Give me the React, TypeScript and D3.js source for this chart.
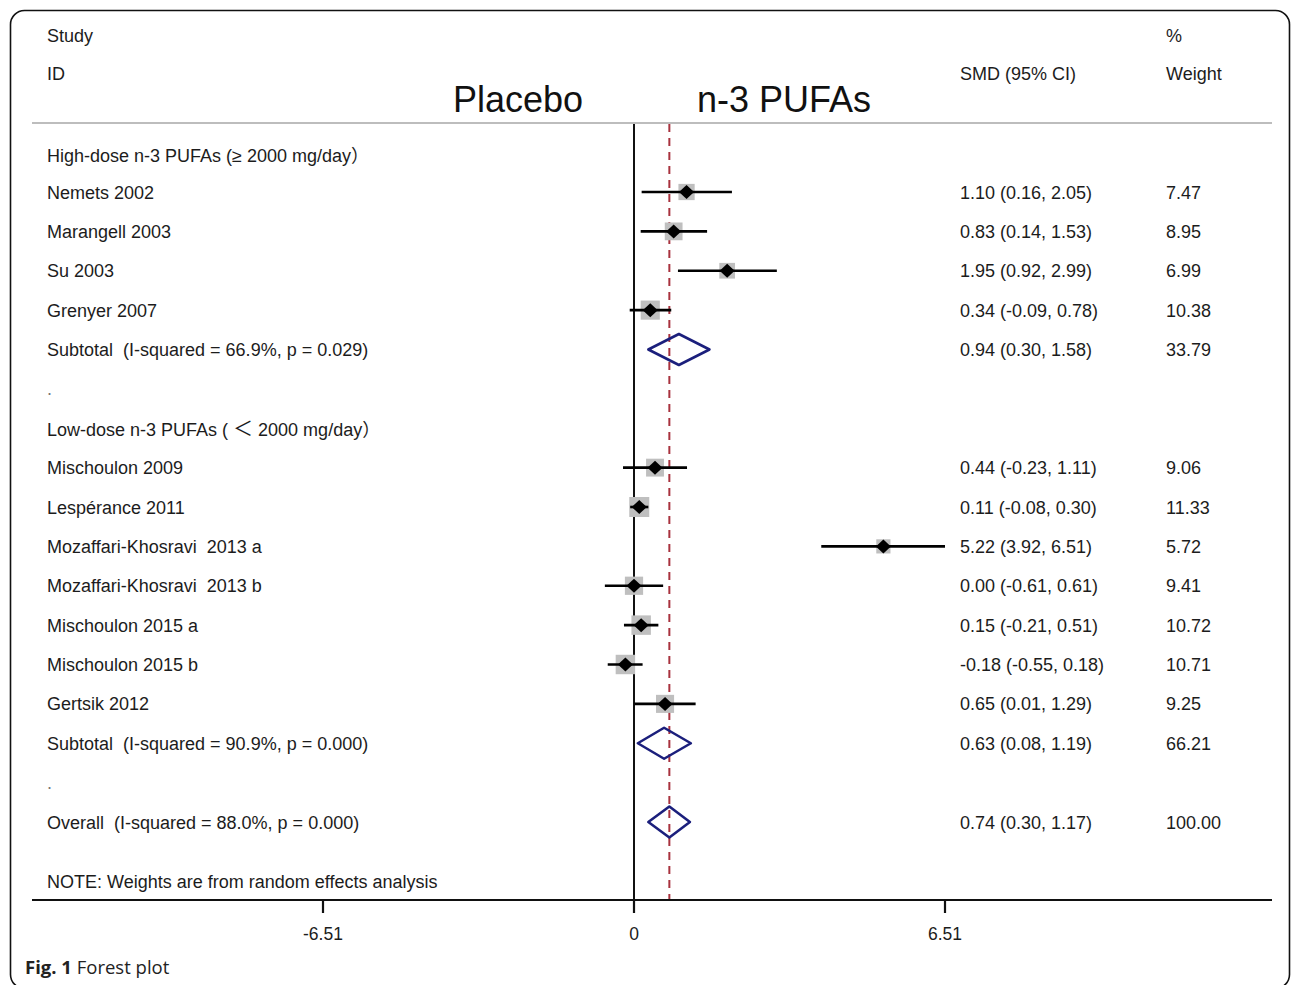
import React from "react";
import * as d3 from "d3";

const studyNames = [
  "Nemets 2002", "Marangell 2003", "Su 2003", "Grenyer 2007",
  "Mischoulon 2009", "Lespérance 2011", "Mozaffari-Khosravi  2013 a", "Mozaffari-Khosravi  2013 b",
  "Mischoulon 2015 a", "Mischoulon 2015 b", "Gertsik 2012",
];
const studyRows = [1, 2, 3, 4, 8, 9, 10, 11, 12, 13, 14];
const smd = [1.10, 0.83, 1.95, 0.34, 0.44, 0.11, 5.22, 0.00, 0.15, -0.18, 0.65];
const ciLow = [0.16, 0.14, 0.92, -0.09, -0.23, -0.08, 3.92, -0.61, -0.21, -0.55, 0.01];
const ciHigh = [2.05, 1.53, 2.99, 0.78, 1.11, 0.30, 6.51, 0.61, 0.51, 0.18, 1.29];
const weights = ["7.47", "8.95", "6.99", "10.38", "9.06", "11.33", "5.72", "9.41", "10.72", "10.71", "9.25"];

const pooledLabels = [
  "Subtotal  (I-squared = 66.9%, p = 0.029)",
  "Subtotal  (I-squared = 90.9%, p = 0.000)",
  "Overall  (I-squared = 88.0%, p = 0.000)",
];
const pooledRows = [5, 15, 17];
const pooledEst = [0.94, 0.63, 0.74];
const pooledLow = [0.30, 0.08, 0.30];
const pooledHigh = [1.58, 1.19, 1.17];
const pooledWeights = ["33.79", "66.21", "100.00"];

const spacerRows = [6, 16];
const groupRows = [0, 7];

const tickValues = [-6.51, 0, 6.51];
const tickLabels = ["-6.51", "0", "6.51"];

const fmt = (v: number) => v.toFixed(2);

export default function App() {
  const W = 1292, H = 985;
  const x = d3.scaleLinear().domain([0, 6.51]).range([634, 945]);
  const y = d3.scaleLinear().domain([1, 17]).range([192, 822]);
  const side = d3.scaleSqrt().domain([0, 11.33]).range([0, 20]);
  const font = "'Liberation Sans', Arial, sans-serif";
  const txt = "#1c1c1c";
  const plotTop = 124, axisY = 900;
  const navy = "#1b1f7c";
  const pre = { whiteSpace: "pre" as const };
  const cjk = "'Noto Sans CJK SC', sans-serif";

  return (
    <svg width={W} height={H} style={{ position: "absolute", left: 0, top: 0, background: "#fff" }} fontFamily={font}>
      <rect x={10.5} y={10.5} width={1279} height={978} rx={14} fill="#fff" stroke="#111" strokeWidth={1.6} />

      {/* header */}
      <text x={47} y={42} fontSize={18} fill={txt}>Study</text>
      <text x={47} y={80} fontSize={18} fill={txt}>ID</text>
      <text x={960} y={80} fontSize={18} fill={txt}>SMD (95% CI)</text>
      <text x={1166} y={42} fontSize={18} fill={txt}>%</text>
      <text x={1166} y={80} fontSize={18} fill={txt}>Weight</text>
      <text x={518} y={112} fontSize={36} fill="#111" textAnchor="middle">Placebo</text>
      <text x={697} y={112} fontSize={36} fill="#111">n-3 PUFAs</text>
      <line x1={32} x2={1272} y1={123} y2={123} stroke="#bdbdbd" strokeWidth={2} />

      {/* reference lines */}
      <line x1={x(0)} x2={x(0)} y1={plotTop} y2={axisY} stroke="#111" strokeWidth={2} />
      <line x1={x(pooledEst[2])} x2={x(pooledEst[2])} y1={plotTop} y2={axisY} stroke="#a8323e" strokeWidth={2} strokeDasharray="8,6" />

      {/* group headers and spacers */}
      <text x={47} y={y(groupRows[0]) + 9} fontSize={18} fill={txt} style={pre}>
        <tspan>High-dose n-3 PUFAs (≥ 2000 mg/day</tspan>
        <tspan fontFamily={cjk}>）</tspan>
      </text>
      <text x={47} y={y(groupRows[1]) + 8} fontSize={18} fill={txt} style={pre}>
        <tspan>Low-dose n-3 PUFAs ( </tspan>
        <tspan fontFamily={cjk} fontSize={20}>＜</tspan>
        <tspan> 2000 mg/day</tspan>
        <tspan fontFamily={cjk}>）</tspan>
      </text>
      {spacerRows.map((r, i) => (
        <text key={"sp" + i} x={47} y={y(r) + 6.5} fontSize={18} fill="#777">.</text>
      ))}

      {/* studies */}
      {studyNames.map((n, i) => {
        const cy = y(studyRows[i]);
        const s = side(+weights[i]);
        const cx = x(smd[i]);
        return (
          <g key={"s" + i}>
            <rect x={cx - s / 2} y={cy - s / 2} width={s} height={s} fill="#bfbfbf" />
            <line x1={x(ciLow[i])} x2={x(ciHigh[i])} y1={cy} y2={cy} stroke="#000" strokeWidth={2.6} />
            <path d={`M${cx - 7.5},${cy} L${cx},${cy - 7} L${cx + 7.5},${cy} L${cx},${cy + 7} Z`} fill="#000" />
            <text x={47} y={cy + 6.5} fontSize={18} fill={txt} style={pre}>{n}</text>
            <text x={960} y={cy + 6.5} fontSize={18} fill={txt}>{`${fmt(smd[i])} (${fmt(ciLow[i])}, ${fmt(ciHigh[i])})`}</text>
            <text x={1166} y={cy + 6.5} fontSize={18} fill={txt}>{weights[i]}</text>
          </g>
        );
      })}

      {/* pooled */}
      {pooledLabels.map((l, i) => {
        const cy = y(pooledRows[i]);
        const h = 15.5;
        return (
          <g key={"p" + i}>
            <path d={`M${x(pooledLow[i])},${cy} L${x(pooledEst[i])},${cy - h} L${x(pooledHigh[i])},${cy} L${x(pooledEst[i])},${cy + h} Z`}
              fill="none" stroke={navy} strokeWidth={2.6} strokeLinejoin="round" />
            <text x={47} y={cy + 6.5} fontSize={18} fill={txt} style={pre}>{l}</text>
            <text x={960} y={cy + 6.5} fontSize={18} fill={txt}>{`${fmt(pooledEst[i])} (${fmt(pooledLow[i])}, ${fmt(pooledHigh[i])})`}</text>
            <text x={1166} y={cy + 6.5} fontSize={18} fill={txt}>{pooledWeights[i]}</text>
          </g>
        );
      })}

      <text x={47} y={888} fontSize={18} fill={txt}>NOTE: Weights are from random effects analysis</text>

      {/* axis */}
      <line x1={32} x2={1272} y1={axisY} y2={axisY} stroke="#111" strokeWidth={2.2} />
      {tickValues.map((t, i) => (
        <g key={"t" + i}>
          <line x1={x(t)} x2={x(t)} y1={axisY} y2={axisY + 13} stroke="#111" strokeWidth={2.2} />
          <text x={x(t)} y={940} fontSize={17.5} fill={txt} textAnchor="middle">{tickLabels[i]}</text>
        </g>
      ))}

      {/* caption */}
      <text x={25} y={974} fontSize={18.5} fontFamily="'Open Sans', sans-serif" fill="#222">
        <tspan fontWeight="bold">Fig. 1</tspan>
        <tspan> Forest plot</tspan>
      </text>
    </svg>
  );
}
